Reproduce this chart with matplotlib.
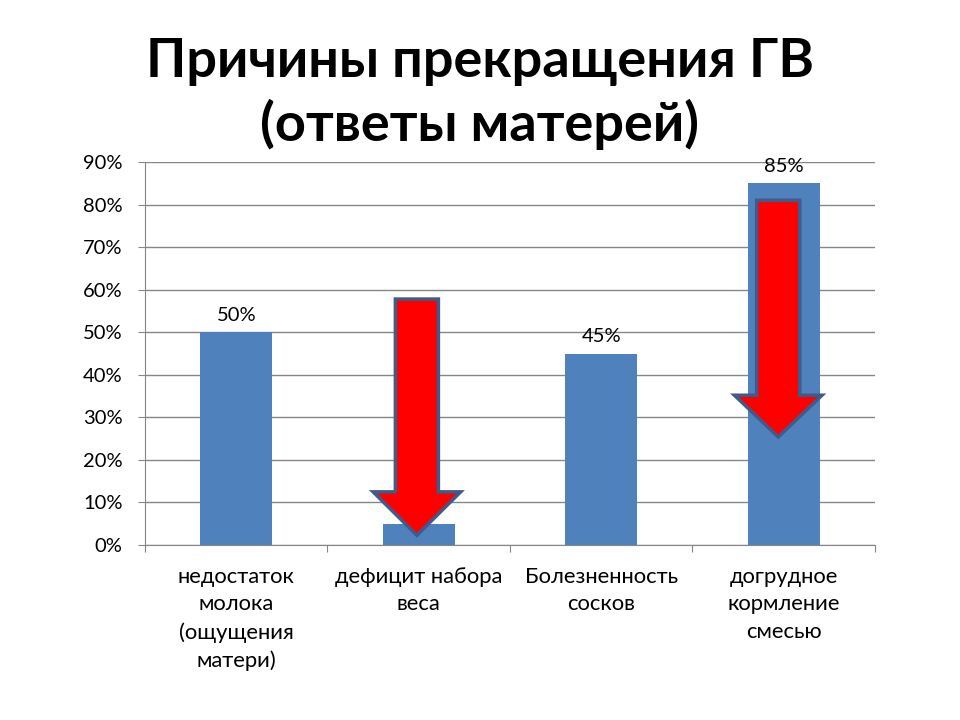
import matplotlib
matplotlib.use("Agg")
import matplotlib.pyplot as plt
from matplotlib.patches import Polygon
import numpy as np

plt.rcParams['font.family'] = ['Lato', 'DejaVu Sans']

title = "Причины прекращения ГВ\n(ответы матерей)"
categories = ["недостаток\nмолока\n(ощущения\nматери)", "дефицит набора\nвеса",
              "Болезненность\nсосков", "догрудное\nкормление\nсмесью"]
values = [50, 5, 45, 85]
show_label = [True, False, True, True]
yticks = [0, 10, 20, 30, 40, 50, 60, 70, 80, 90]

# decorative arrows: (category index, x offset, top, head base, tip)
arrows = [(1, -0.01, 57.8, 12.5, 2.3), (3, -0.03, 81.0, 35.2, 25.4)]

fig = plt.figure(figsize=(9.6, 7.2), dpi=100)
ax = fig.add_axes([0.151, 0.243, 0.7604, 0.532])

x = np.arange(len(categories))
ax.bar(x, values, width=0.395, color='#4F81BD', zorder=2)
for xi, v, s in zip(x, values, show_label):
    if s:
        ax.annotate(f"{v}%", (xi, v), xytext=(0, 6), textcoords='offset points',
                    ha='center', va='bottom', fontsize=14.5, color='#000000')

for ci, dx, top, base, tip in arrows:
    cx = ci + dx
    sw, hw = 0.118, 0.24
    pts = [(cx - sw, top), (cx + sw, top), (cx + sw, base), (cx + hw, base),
           (cx, tip), (cx - hw, base), (cx - sw, base)]
    ax.add_patch(Polygon(pts, closed=True, facecolor='#FF0000', edgecolor='#3D5C8C',
                         linewidth=2.5, zorder=4, joinstyle='miter'))

ax.set_xlim(-0.5, len(categories) - 0.5)
ax.set_ylim(0, 90)
ax.set_yticks(yticks)
ax.set_yticklabels([f"{t}%" for t in yticks], fontsize=14.5)
ax.yaxis.grid(True, color='#868686', linewidth=1, zorder=0)
ax.set_axisbelow(True)

ax.set_xticks(np.arange(-0.5, len(categories), 1.0))
ax.set_xticklabels([])
ax.set_xticks(x, minor=True)
ax.set_xticklabels(categories, minor=True, fontsize=15.8, linespacing=1.45, va='top')
ax.tick_params(axis='x', which='minor', length=0, pad=16)
ax.tick_params(axis='x', which='major', length=5, color='#868686')
ax.tick_params(axis='y', length=5, color='#868686', pad=11)

for sp in ['top', 'right']:
    ax.spines[sp].set_visible(False)
for sp in ['left', 'bottom']:
    ax.spines[sp].set_color('#868686')

fig.text(0.5, 0.949, title, ha='center', va='top', fontsize=39, fontweight='bold',
         linespacing=1.3, color='#000000')

fig.savefig("out.png", dpi=100, facecolor='white')
